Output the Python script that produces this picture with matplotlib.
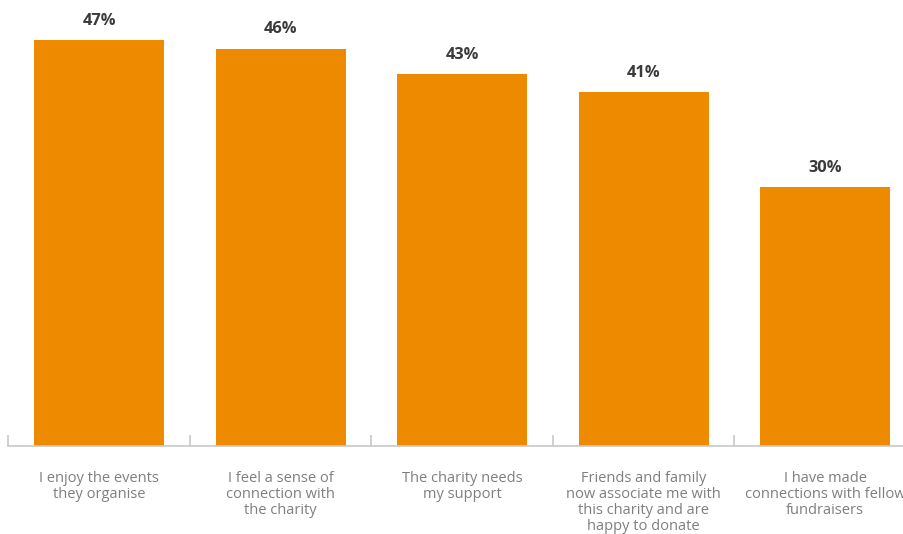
import matplotlib.pyplot as plt
import numpy as np

plt.rcParams['font.family'] = ['Open Sans', 'DejaVu Sans']

# ===================== data =====================
reasons = [
    "I enjoy the events\nthey organise",
    "I feel a sense of\nconnection with\nthe charity",
    "The charity needs\nmy support",
    "Friends and family\nnow associate me with\nthis charity and are\nhappy to donate",
    "I have made\nconnections with fellow\nfundraisers",
]
shares = [47, 46, 43, 41, 30]

bar_color = "#EE8A00"
axis_color = "#C8C8C8"

# ===================== figure =====================
fig = plt.figure(figsize=(9.04, 5.34), dpi=100)
# axes runs a little past the right edge, so the last label gets clipped
ax = fig.add_axes([8.4 / 904, 88 / 534, 907.6 / 904, 446 / 534])

x = np.arange(len(shares))
ax.bar(x, shares, width=0.717, color=bar_color, zorder=2)

for xi, v in zip(x, shares):
    ax.annotate(f"{v}%", (xi, v), xytext=(0, 8), textcoords="offset points",
                ha="center", va="bottom", fontsize=11.8, fontweight="bold",
                color="#3a3a3a")

ax.set_xlim(-0.5, len(shares) - 0.5)
ax.set_ylim(0, 51.62)

# baseline + tick marks between categories
for side in ["top", "right", "left"]:
    ax.spines[side].set_visible(False)
ax.spines["bottom"].set_color(axis_color)
ax.spines["bottom"].set_linewidth(1.2)

ax.set_yticks([])
ax.set_xticks(np.arange(len(shares) + 1) - 0.5, minor=False)
ax.set_xticklabels([])
ax.tick_params(axis="x", direction="in", length=8, color=axis_color, width=1.2)

for xi, lab in zip(x, reasons):
    ax.annotate(lab, (xi, 0), xytext=(0, -18), textcoords="offset points",
                ha="center", va="top", fontsize=10.5, color="#7f7f7f",
                linespacing=1.08, annotation_clip=False)

fig.savefig("out.png", dpi=100)
